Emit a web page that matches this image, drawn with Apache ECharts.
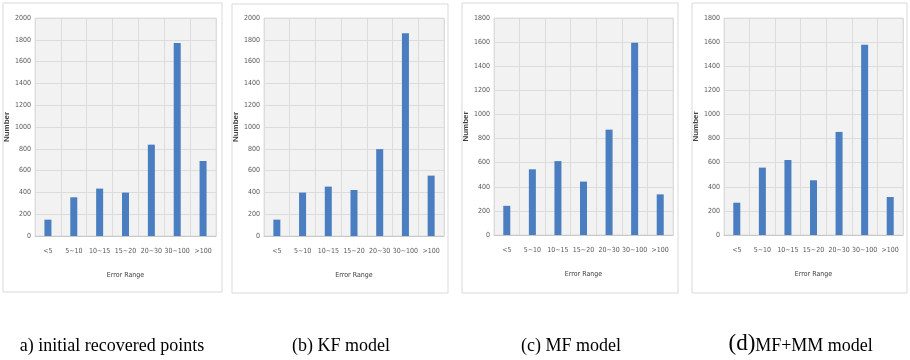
<!DOCTYPE html>
<html>
<head>
<meta charset="utf-8">
<script src="https://cdn.jsdelivr.net/npm/echarts@6/dist/echarts.min.js"></script>
<style>
  html, body { margin: 0; padding: 0; background: #fff; }
  #chart { width: 910px; height: 360px; }
</style>
</head>
<body>
<div id="chart"></div>
<script>
// error range buckets
var categories = ['<5', '5~10', '10~15', '15~20', '20~30', '30~100', '>100']

// counts per panel
var initialPoints = [150, 355, 435, 398, 838, 1770, 688]
var kfModel = [150, 398, 453, 422, 797, 1859, 554]
var mfModel = [242, 545, 613, 443, 874, 1595, 337]
var mfmmModel = [268, 559, 622, 454, 855, 1578, 315]

var yMax = [2000, 2000, 1800, 1800]
var captions = ['a) initial recovered points', '(b) KF model', '(c) MF model', 'MF+MM model']

var panelData = [initialPoints, kfModel, mfModel, mfmmModel]

// layout of each panel (frame + plot area)
var panels = [
  { frame: [3, 3, 219, 289], grid: [35, 18, 181, 218], nameGap: 20, cap: 112 },
  { frame: [232, 4, 216, 289], grid: [264, 18, 180, 218], nameGap: 21, cap: 341 },
  { frame: [462, 3, 216, 290], grid: [494, 18, 179, 217], nameGap: 22, cap: 571 },
  { frame: [692, 3, 215, 290], grid: [724, 18, 179, 217], nameGap: 22, cap: 814 }
]

var labelFont = "'DejaVu Sans Condensed', 'Liberation Sans Narrow', 'Arial Narrow', sans-serif"
var serifFont = "'Liberation Serif', 'Times New Roman', serif"
var chart = echarts.init(document.getElementById('chart'))

var grids = [], xAxes = [], yAxes = [], series = [], graphics = []

panels.forEach(function (p, i) {
  graphics.push({
    type: 'rect',
    shape: { x: p.frame[0], y: p.frame[1], width: p.frame[2], height: p.frame[3] },
    style: { fill: '#fff', stroke: '#d9d9d9', lineWidth: 1 },
    z: -10
  })
  // caption under the panel
  graphics.push({
    type: 'text',
    x: p.cap,
    y: 346,
    style: {
      text: captions[i],
      font: '18px ' + serifFont,
      fill: '#000',
      align: 'center',
      verticalAlign: 'middle'
    }
  })
  grids.push({
    left: p.grid[0], top: p.grid[1], width: p.grid[2], height: p.grid[3],
    show: true, backgroundColor: '#f2f2f2', borderColor: '#e0e0e0', borderWidth: 1
  })
  xAxes.push({
    type: 'category',
    gridIndex: i,
    data: categories,
    name: 'Error Range',
    nameLocation: 'middle',
    nameGap: 36,
    nameTextStyle: { fontSize: 7, color: '#404040', fontFamily: labelFont },
    axisLine: { lineStyle: { color: '#c8c8c8' } },
    axisTick: { show: false },
    axisLabel: { fontSize: 7, color: '#595959', margin: 12, fontFamily: labelFont, interval: 0 },
    splitLine: { show: true, lineStyle: { color: '#dcdcdc' } }
  })
  yAxes.push({
    type: 'value',
    gridIndex: i,
    min: 0,
    max: yMax[i],
    interval: 200,
    name: 'Number',
    nameLocation: 'middle',
    nameGap: p.nameGap,
    nameRotate: 90,
    nameTextStyle: { fontSize: 8, fontWeight: 'bold', color: '#404040' },
    axisLine: { show: false },
    axisTick: { show: false },
    axisLabel: {
      fontSize: 7, color: '#595959', margin: 4, fontFamily: labelFont,
      formatter: function (v) { return String(v) }
    },
    splitLine: { show: true, lineStyle: { color: '#dcdcdc' } }
  })
  series.push({
    type: 'bar',
    xAxisIndex: i,
    yAxisIndex: i,
    data: panelData[i],
    barWidth: 7,
    itemStyle: { color: '#4a7ec0' }
  })
})

// larger "(d)" prefix of the last caption
graphics.push({
  type: 'text',
  x: 742,
  y: 344,
  style: {
    text: '(d)',
    font: '23px ' + serifFont,
    fill: '#000',
    align: 'center',
    verticalAlign: 'middle'
  }
})

chart.setOption({
  animation: false,
  graphic: graphics,
  grid: grids,
  xAxis: xAxes,
  yAxis: yAxes,
  series: series
})
</script>
</body>
</html>
